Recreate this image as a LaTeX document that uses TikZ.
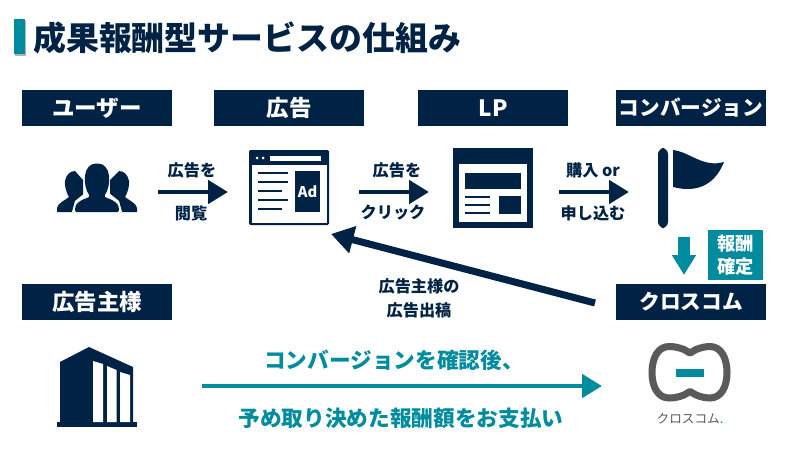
\documentclass[tikz,border=0pt]{standalone}
\usepackage{xcolor}
\usepackage{fontspec}
\setmainfont{Noto Sans CJK JP}
\usepackage{tikz}
\usetikzlibrary{arrows.meta}

\definecolor{navy}{HTML}{002244}
\definecolor{teal}{HTML}{008C9E}
\definecolor{logogray}{HTML}{5A5A5A}

\tikzset{
	headbox/.style={fill=navy,text=white,inner sep=0pt,minimum width=3.75cm,minimum height=0.9cm,font=\fontsize{16}{16}\selectfont\bfseries},
	smalltext/.style={text=navy,inner sep=0pt,font=\fontsize{11.5}{11.5}\selectfont\bfseries},
	tealtext/.style={text=teal,inner sep=0pt,font=\fontsize{15.4}{15.4}\selectfont\bfseries},
	navyarrow/.style={draw=navy,line width=3.5pt,-{Triangle[length=14.2pt,width=16.3pt]}},
	iconline/.style={navy,line width=2pt},
}

\begin{document}
\begin{tikzpicture}[x=0.025cm,y=-0.025cm]
			
			\useasboundingbox (0,0) rectangle (800,460);
			
			% title
			\fill[black,opacity=0.3] (15,21) rectangle (26,56);
			\fill[teal] (14,19) rectangle (25,54);
			\node[anchor=west,text=navy,inner sep=0pt,font=\fontsize{23.4}{23.4}\selectfont\bfseries] (title) at (33,38) {成果報酬型サービスの仕組み};
			
			% heading boxes
			\node[headbox] (user) at (97,108) {ユーザー};
			\node[headbox] (ad) at (289,108) {広告};
			\node[headbox] (lp) at (493,108) {LP};
			\node[headbox,font=\fontsize{14.7}{14.7}\selectfont\bfseries] (cv) at (691,108) {コンバージョン};
			\node[headbox] (client) at (97,302) {広告主様};
			\node[headbox,font=\fontsize{14.7}{14.7}\selectfont\bfseries] (crosscom) at (691,302) {クロスコム};
			
			% users
			\fill[navy] (57,212) -- (57,208) .. controls (58,203) and (64,201) .. (69,197) .. controls (66,192) and (64.5,186) .. (65,181) .. controls (66,175) and (70,171) .. (75,171) -- (83,180) -- (83,205) -- (75,212) -- cycle;
			\fill[navy] (137,212) -- (137,208) .. controls (136,203) and (130,201) .. (125,197) .. controls (128,192) and (129.5,186) .. (129,181) .. controls (128,175) and (124,171) .. (119,171) -- (110,180) -- (110,205) -- (119,212) -- cycle;
			\fill[white] (72,212) -- (75,201) -- (85,193) -- (84,172) -- (97,160) -- (110,172) -- (109,193) -- (119,201) -- (122,212) -- cycle;
			\fill[navy,rounded corners=1pt] (75,212) .. controls (75,205) and (77,203) .. (82,200) .. controls (85,198.5) and (88,198) .. (90,196) .. controls (86,191) and (84.5,183) .. (85,177) .. controls (85.5,169) and (90,163.5) .. (97,163.5) .. controls (104,163.5) and (108.5,169) .. (109,177) .. controls (109.5,183) and (108,191) .. (104,196) .. controls (106,198) and (109,198.5) .. (112,200) .. controls (117,203) and (119,205) .. (119,212) -- cycle;
			
			% ad window
			\fill[navy,rounded corners=1pt] (249,150) rectangle (329,225);
			\fill[white] (251.5,165) rectangle (326.5,222.5);
			\fill[white] (257,158) circle (1.5) (263,158) circle (1.5);
			\fill[white] (270,156) rectangle (321,160.5);
			\foreach \y/\e in {173/288,182/288,191/282,200/288,209/282}
				\draw[iconline] (258,\y) -- (\e,\y);
			\node[fill=navy,text=white,inner sep=0pt,minimum width=0.625cm,minimum height=1.025cm,font=\fontsize{10.5}{10.5}\selectfont\bfseries] (adrect) at (307.5,191.5) {Ad};
			
			% lp window
			\fill[navy] (453,148) rectangle (533,228);
			\fill[white] (459,164) rectangle (527,222);
			\fill[navy] (465,173) rectangle (521,189);
			\fill[navy] (499,196) rectangle (521,214);
			\foreach \y in {197,205,213}
				\draw[iconline] (465,\y) -- (490,\y);
			
			% flag
			\fill[navy,rounded corners=4.5pt] (658,148) rectangle (668,228);
			\fill[navy] (673,150) .. controls (690,152) and (703,168) .. (724,162) .. controls (716,182) and (700,194) .. (673,187) -- cycle;
			
			% building
			\fill[navy] (60,423) -- (60,362) -- (89,347) -- (133,367) -- (133,423) -- cycle;
			\fill[navy] (57,422) rectangle (137,427);
			\fill[white] (93,361) -- (103,364) -- (103,422) -- (93,422) -- cycle;
			\fill[white] (107,366) -- (116.5,370) -- (116.5,422) -- (107,422) -- cycle;
			\fill[white] (120,372) -- (130,375) -- (130,422) -- (120,422) -- cycle;
			
			% logo
			\draw[logogray,line width=5pt,line join=round] (690,353) -- (684,349.5) .. controls (679,347.5) and (674,346.5) .. (669,346.5) .. controls (658,346.5) and (652,358) .. (652,372.5) .. controls (652,387) and (658,398) .. (669,398) .. controls (674,398) and (679,397) .. (684,395) -- (690,391.5) -- (696,395) .. controls (701,397) and (706,398) .. (710,398) .. controls (721,398) and (727,387) .. (727,372.5) .. controls (727,358) and (721,346.5) .. (710,346.5) .. controls (706,346.5) and (701,347.5) .. (696,349.5) -- cycle;
			\fill[teal] (676,369) rectangle (704,377);
			\node[inner sep=0pt,text=logogray,font=\fontsize{9}{9}\selectfont] (logotext) at (690,419) {クロスコム\textcolor{teal}{.}};
			
			% labels
			\node[smalltext] (seead) at (192,170) {広告を};
			\node[smalltext] (seead2) at (191,213) {閲覧};
			\node[smalltext] (clickad) at (397,170) {広告を};
			\node[smalltext] (clickad2) at (393,213) {クリック};
			\node[smalltext] (buy) at (593,170) {購入 or};
			\node[smalltext] (buy2) at (593,213) {申し込む};
			\node[smalltext] (post) at (419,286) {広告主様の};
			\node[smalltext] (post2) at (419,310) {広告出稿};
			\node[tealtext] (confirm) at (394,360) {コンバージョンを確認後、};
			\node[tealtext] (pay) at (401,418) {予め取り決めた報酬額をお支払い};
			\node[fill=teal,text=white,inner sep=0pt,minimum width=1.375cm,minimum height=1.25cm,align=center,font=\fontsize{13}{16.5}\selectfont\bfseries] (fixed) at (735.5,255) {報酬\\確定};
			
			% end points of the arrows
			\coordinate (a1) at (158,192);
			\coordinate (b1) at (228,192);
			\coordinate (a2) at (359,192);
			\coordinate (b2) at (429,192);
			\coordinate (a3) at (559,192);
			\coordinate (b3) at (629,192);
			\coordinate (a4) at (684,237);
			\coordinate (b4) at (684,275);
			\coordinate (a5) at (595,303);
			\coordinate (b5) at (331,234);
			\coordinate (a6) at (202,386);
			\coordinate (b6) at (602,386);
			
			\draw[navyarrow] (a1) -- (b1);
			\draw[navyarrow] (a2) -- (b2);
			\draw[navyarrow] (a3) -- (b3);
			\draw[draw=teal,line width=8.9pt,-{Triangle[length=14.2pt,width=16.3pt]}] (a4) -- (b4);
			\draw[draw=navy,line width=5pt,-{Triangle[length=16pt,width=19pt]}] (a5) -- (b5);
			\draw[draw=teal,line width=3.5pt,-{Triangle[length=14.2pt,width=16.3pt]}] (a6) -- (b6);
			
		\end{tikzpicture}
\end{document}
